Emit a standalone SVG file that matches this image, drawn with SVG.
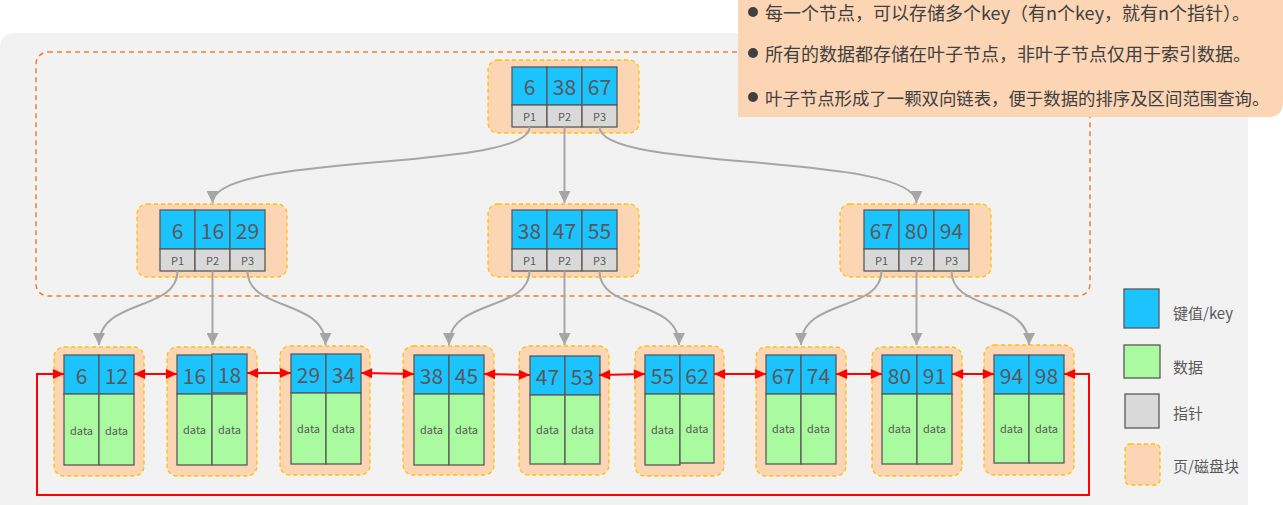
<svg xmlns="http://www.w3.org/2000/svg" width="1283" height="505" viewBox="0 0 1283 505">
<defs>
<style>
.page{fill:#fcd5b4;stroke:#ffc000;stroke-width:1.3;stroke-dasharray:4 3}
.key{fill:#1bc3ff;stroke:#595959;stroke-width:1.3}
.ptr{fill:#d9d9d9;stroke:#595959;stroke-width:1.3}
.dat{fill:#aafaa0;stroke:#595959;stroke-width:1.3}
.kt{font-family:"Noto Sans CJK SC","Noto Sans",sans-serif;font-size:21px;fill:#595959;text-anchor:middle;dominant-baseline:central}
.pt{font-family:"Noto Sans CJK SC","Noto Sans",sans-serif;font-size:11px;fill:#595959;text-anchor:middle;dominant-baseline:central}
.dt{font-family:"Noto Sans CJK SC","Noto Sans",sans-serif;font-size:11px;fill:#595959;text-anchor:middle;dominant-baseline:central}
.lg{font-family:"Noto Sans CJK SC","Noto Sans",sans-serif;font-size:15px;fill:#595959;dominant-baseline:central}
.nt{font-family:"Noto Sans CJK SC","Noto Sans",sans-serif;font-size:18px;fill:#404040;dominant-baseline:central}
.g{fill:none;stroke:#a6a6a6;stroke-width:2;marker-end:url(#ga)}
.r{fill:none;stroke:#ff0000;stroke-width:2;marker-start:url(#ra);marker-end:url(#ra)}
</style>
<marker id="ga" markerUnits="userSpaceOnUse" markerWidth="12" markerHeight="12" refX="10" refY="5" orient="auto" viewBox="0 0 10 10"><path d="M0,0 L10,5 L0,10 z" fill="#a6a6a6"/></marker>
<marker id="ra" markerUnits="userSpaceOnUse" markerWidth="12" markerHeight="10" refX="10" refY="4.5" orient="auto-start-reverse" viewBox="0 0 10 9"><path d="M0,0 L10,4.5 L0,9 z" fill="#ff0000"/></marker>
</defs>

<path d="M0,48 Q0,33 15,33 L1248,33 L1248,505 L0,505 z" fill="#f2f2f2"/>
<rect x="36" y="52" width="1054" height="244" rx="12" fill="none" stroke="#ed7d31" stroke-width="1.5" stroke-dasharray="5 4"/>

<g id="root">
<rect class="page" x="488" y="60" width="151" height="73" rx="10"/>
<rect class="key" x="512" y="67" width="35" height="38"/><rect class="key" x="547" y="67" width="35" height="38"/><rect class="key" x="582" y="67" width="35" height="38"/>
<rect class="ptr" x="512" y="105" width="35" height="22"/><rect class="ptr" x="547" y="105" width="35" height="22"/><rect class="ptr" x="582" y="105" width="35" height="22"/>
<text class="kt" x="529.5" y="86">6</text><text class="kt" x="564.5" y="86">38</text><text class="kt" x="599.5" y="86">67</text>
<text class="pt" x="529.5" y="116">P1</text><text class="pt" x="564.5" y="116">P2</text><text class="pt" x="599.5" y="116">P3</text>
</g>

<g id="l2a">
<rect class="page" x="137" y="204" width="150" height="73" rx="10"/>
<rect class="key" x="160" y="210" width="35" height="39"/><rect class="key" x="195" y="210" width="35" height="39"/><rect class="key" x="230" y="210" width="35" height="39"/>
<rect class="ptr" x="160" y="249" width="35" height="22"/><rect class="ptr" x="195" y="249" width="35" height="22"/><rect class="ptr" x="230" y="249" width="35" height="22"/>
<text class="kt" x="177.5" y="230">6</text><text class="kt" x="212.5" y="230">16</text><text class="kt" x="247.5" y="230">29</text>
<text class="pt" x="177.5" y="260">P1</text><text class="pt" x="212.5" y="260">P2</text><text class="pt" x="247.5" y="260">P3</text>
</g>

<g id="l2b">
<rect class="page" x="488" y="204" width="151" height="73" rx="10"/>
<rect class="key" x="512" y="210" width="35" height="39"/><rect class="key" x="547" y="210" width="35" height="39"/><rect class="key" x="582" y="210" width="35" height="39"/>
<rect class="ptr" x="512" y="249" width="35" height="22"/><rect class="ptr" x="547" y="249" width="35" height="22"/><rect class="ptr" x="582" y="249" width="35" height="22"/>
<text class="kt" x="529.5" y="230">38</text><text class="kt" x="564.5" y="230">47</text><text class="kt" x="599.5" y="230">55</text>
<text class="pt" x="529.5" y="260">P1</text><text class="pt" x="564.5" y="260">P2</text><text class="pt" x="599.5" y="260">P3</text>
</g>

<g id="l2c">
<rect class="page" x="840" y="204" width="151" height="73" rx="10"/>
<rect class="key" x="864" y="210" width="35" height="39"/><rect class="key" x="899" y="210" width="35" height="39"/><rect class="key" x="934" y="210" width="35" height="39"/>
<rect class="ptr" x="864" y="249" width="35" height="22"/><rect class="ptr" x="899" y="249" width="35" height="22"/><rect class="ptr" x="934" y="249" width="35" height="22"/>
<text class="kt" x="881.5" y="230">67</text><text class="kt" x="916.5" y="230">80</text><text class="kt" x="951.5" y="230">94</text>
<text class="pt" x="881.5" y="260">P1</text><text class="pt" x="916.5" y="260">P2</text><text class="pt" x="951.5" y="260">P3</text>
</g>

<g id="leaf1" transform="translate(54,0)">
<rect class="page" x="0" y="347" width="90" height="129" rx="10"/>
<rect class="key" x="10" y="355" width="35" height="39"/><rect class="key" x="45" y="355" width="35" height="39"/>
<rect class="dat" x="10" y="394" width="35" height="71"/><rect class="dat" x="45" y="394" width="35" height="71"/>
<text class="kt" x="27.5" y="375">6</text><text class="kt" x="62.5" y="375">12</text>
<text class="dt" x="27.5" y="430">data</text><text class="dt" x="62.5" y="430">data</text>
</g>
<g id="leaf2" transform="translate(167,0)">
<rect class="page" x="0" y="347" width="90" height="129" rx="10"/>
<rect class="key" x="10" y="355" width="35" height="39"/><rect class="key" x="45" y="354" width="35" height="39"/>
<rect class="dat" x="10" y="394" width="35" height="71"/><rect class="dat" x="45" y="394" width="35" height="71"/>
<text class="kt" x="27.5" y="375">16</text><text class="kt" x="62.5" y="374">18</text>
<text class="dt" x="27.5" y="429">data</text><text class="dt" x="62.5" y="429">data</text>
</g>
<g id="leaf3" transform="translate(280,0)">
<rect class="page" x="0" y="346" width="90" height="129" rx="10"/>
<rect class="key" x="11" y="354" width="35" height="39"/><rect class="key" x="46" y="354" width="35" height="39"/>
<rect class="dat" x="11" y="393" width="35" height="71"/><rect class="dat" x="46" y="393" width="35" height="71"/>
<text class="kt" x="28.5" y="374">29</text><text class="kt" x="63.5" y="374">34</text>
<text class="dt" x="28.5" y="428">data</text><text class="dt" x="63.5" y="428">data</text>
</g>
<g id="leaf4" transform="translate(403,0)">
<rect class="page" x="0" y="346" width="91" height="129" rx="10"/>
<rect class="key" x="11" y="355" width="35" height="39"/><rect class="key" x="46" y="355" width="35" height="39"/>
<rect class="dat" x="11" y="394" width="35" height="71"/><rect class="dat" x="46" y="394" width="35" height="71"/>
<text class="kt" x="28.5" y="375">38</text><text class="kt" x="63.5" y="375">45</text>
<text class="dt" x="28.5" y="429">data</text><text class="dt" x="63.5" y="429">data</text>
</g>
<g id="leaf5" transform="translate(519,0)">
<rect class="page" x="0" y="346" width="90" height="129" rx="10"/>
<rect class="key" x="11" y="356" width="35" height="39"/><rect class="key" x="46" y="356" width="35" height="39"/>
<rect class="dat" x="11" y="395" width="35" height="69"/><rect class="dat" x="46" y="395" width="35" height="69"/>
<text class="kt" x="28.5" y="376">47</text><text class="kt" x="63.5" y="376">53</text>
<text class="dt" x="28.5" y="429">data</text><text class="dt" x="63.5" y="429">data</text>
</g>
<g id="leaf6" transform="translate(635,0)">
<rect class="page" x="0" y="346" width="89" height="130" rx="10"/>
<rect class="key" x="10" y="355" width="35" height="39"/><rect class="key" x="45" y="355" width="34" height="39"/>
<rect class="dat" x="10" y="394" width="35" height="71"/><rect class="dat" x="45" y="394" width="34" height="69"/>
<text class="kt" x="27.5" y="375">55</text><text class="kt" x="62" y="375">62</text>
<text class="dt" x="27.5" y="429">data</text><text class="dt" x="62" y="428">data</text>
</g>
<g id="leaf7" transform="translate(756,0)">
<rect class="page" x="0" y="347" width="90" height="129" rx="10"/>
<rect class="key" x="10" y="355" width="35" height="39"/><rect class="key" x="45" y="355" width="35" height="39"/>
<rect class="dat" x="10" y="394" width="35" height="70"/><rect class="dat" x="45" y="394" width="35" height="70"/>
<text class="kt" x="27.5" y="375">67</text><text class="kt" x="62.5" y="375">74</text>
<text class="dt" x="27.5" y="428">data</text><text class="dt" x="62.5" y="428">data</text>
</g>
<g id="leaf8" transform="translate(872,0)">
<rect class="page" x="0" y="347" width="90" height="129" rx="10"/>
<rect class="key" x="10" y="355" width="35" height="39"/><rect class="key" x="45" y="355" width="35" height="39"/>
<rect class="dat" x="10" y="394" width="35" height="70"/><rect class="dat" x="45" y="394" width="35" height="70"/>
<text class="kt" x="27.5" y="375">80</text><text class="kt" x="62.5" y="375">91</text>
<text class="dt" x="27.5" y="428">data</text><text class="dt" x="62.5" y="428">data</text>
</g>
<g id="leaf9" transform="translate(984,0)">
<rect class="page" x="0" y="345" width="90" height="130" rx="10"/>
<rect class="key" x="10" y="355" width="35" height="39"/><rect class="key" x="45" y="355" width="35" height="39"/>
<rect class="dat" x="10" y="394" width="35" height="69"/><rect class="dat" x="45" y="394" width="35" height="69"/>
<text class="kt" x="27.5" y="375">94</text><text class="kt" x="62.5" y="375">98</text>
<text class="dt" x="27.5" y="428">data</text><text class="dt" x="62.5" y="428">data</text>
</g>

<g id="connectors">
<path class="g" d="M529.5,127 C529.5,172 212.5,152 212.5,203"/>
<path class="g" d="M564.5,127 L564.5,203"/>
<path class="g" d="M599.5,127 C599.5,172 916.5,152 916.5,203"/>
<path class="g" d="M177.5,271 C177.5,312 99,298 99,345"/>
<path class="g" d="M212.5,271 L212.5,345"/>
<path class="g" d="M247.5,271 C247.5,312 325.5,298 325.5,345"/>
<path class="g" d="M529.5,271 C529.5,312 449,298 449,345"/>
<path class="g" d="M564.5,271 L564.5,345"/>
<path class="g" d="M599.5,271 C599.5,312 679,298 679,345"/>
<path class="g" d="M881.5,271 C881.5,312 801,298 801,345"/>
<path class="g" d="M916.5,271 L916.5,345"/>
<path class="g" d="M951.5,271 C951.5,312 1029,298 1029,345"/>
<path class="r" d="M134,374 L177,374"/>
<path class="r" d="M247,373 L291,373"/>
<path class="r" d="M361,373 L414,374"/>
<path class="r" d="M484,374 L530,375"/>
<path class="r" d="M599,375 L645,374"/>
<path class="r" d="M714,374 L766,374"/>
<path class="r" d="M836,374 L882,374"/>
<path class="r" d="M952,374 L994,374"/>
<path class="r" d="M1064,374 L1089,374 L1089,495 L37,495 L37,374 L64,374"/>
</g>

<g id="legend">
<rect class="key" x="1124" y="289" width="35" height="39"/>
<text class="lg" x="1173" y="312">键值/key</text>
<rect class="dat" x="1124" y="345" width="36" height="33"/>
<text class="lg" x="1173" y="366">数据</text>
<rect class="ptr" x="1125" y="394" width="34" height="34"/>
<text class="lg" x="1173" y="412">指针</text>
<rect class="page" x="1125" y="444" width="35" height="41" rx="5"/>
<text class="lg" x="1173" y="465">页/磁盘块</text>
</g>

<g id="note">
<path d="M738,0 L1283,0 L1283,102 Q1283,117 1268,117 L738,117 z" fill="#fcd5b4"/>
<circle cx="753" cy="12" r="5" fill="#404040"/>
<circle cx="753" cy="53" r="5" fill="#404040"/>
<circle cx="753" cy="97" r="5" fill="#404040"/>
<text class="nt" x="765" y="12">每一个节点，可以存储多个key（有n个key，就有n个指针）。</text>
<text class="nt" x="765" y="53">所有的数据都存储在叶子节点，非叶子节点仅用于索引数据。</text>
<text class="nt" x="765" y="97" style="font-size:17.4px">叶子节点形成了一颗双向链表，便于数据的排序及区间范围查询。</text>
</g>
</svg>
